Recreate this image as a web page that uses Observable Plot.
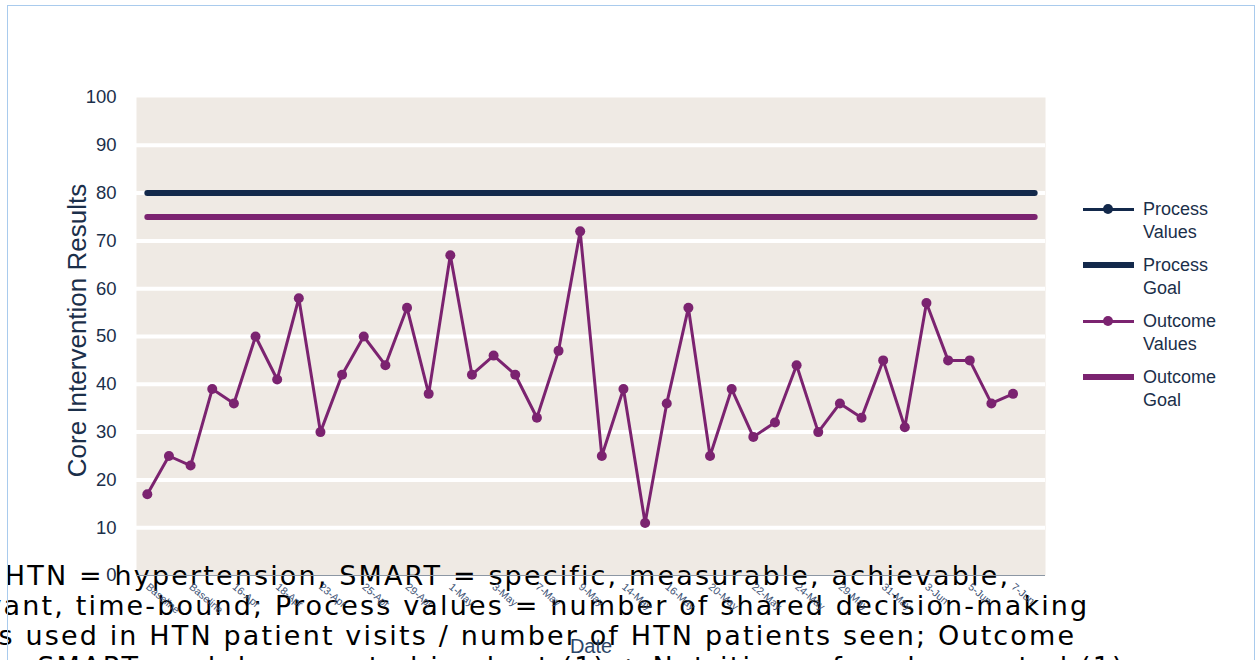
<!DOCTYPE html>
<html>
<head>
<meta charset="utf-8">
<script src="https://cdn.jsdelivr.net/npm/d3@7"></script>
<script src="https://cdn.jsdelivr.net/npm/@observablehq/plot@0.6"></script>
<style>
  html, body { margin: 0; padding: 0; background: #fff; overflow: hidden; width: 1259px; height: 660px; }
  #chart { position: absolute; left: 0; top: 0; }
  #chart g[font-family*="DejaVu"] text { letter-spacing: 2.15px; }
  #border { position: absolute; left: 7px; top: 5px; width: 1248px; height: 700px; border: 1.5px solid #a9cbed; box-sizing: border-box; pointer-events: none; }
  #legend { position: absolute; left: 1083px; top: 198px; font-family: "Liberation Sans", Arial, sans-serif; font-size: 18px; color: #1b2f4a; line-height: 23px; }
  .item { position: relative; height: 56px; }
  .item .txt { position: absolute; left: 60px; top: 0; }
  .item .ln { position: absolute; left: 0; width: 51px; }
  .item .dot { position: absolute; left: 20px; width: 10px; height: 10px; border-radius: 50%; }
</style>
</head>
<body>
<div id="chart"></div>
<div id="legend"></div>
<div id="border"></div>
<script>
// ---- data ----
const dateLabels = ["Baseline","Baseline","16-Apr","18-Apr","23-Apr","25-Apr","29-Apr","1-May","3-May","7-May","9-May","14-May","16-May","20-May","22-May","24-May","29-May","31-May","3-Jun","5-Jun","7-Jun"];
const outcomeValues = [17,25,23,39,36,50,41,58,30,42,50,44,56,38,67,42,46,42,33,47,72,25,39,11,36,56,25,39,29,32,44,30,36,33,45,31,57,45,45,36,38];
const processGoal = 80;
const outcomeGoal = 75;
const nCategories = 42;
const yTicks = [0,10,20,30,40,50,60,70,80,90,100];
const gridTicks = [10,20,30,40,50,60,70,80,90];
const legendItems = [
  {label: "Process\nValues", color: "#13294b", kind: "values"},
  {label: "Process\nGoal", color: "#13294b", kind: "goal"},
  {label: "Outcome\nValues", color: "#7b2370", kind: "values"},
  {label: "Outcome\nGoal", color: "#7b2370", kind: "goal"}
];
const captionLines = [
  "HTN = hypertension, SMART = specific, measurable, achievable,",
  "relevant, time-bound; Process values = number of shared decision-making",
  "tools used in HTN patient visits / number of HTN patients seen; Outcome",
  "values = SMART goal documented in chart (1) + Nutrition referral accepted (1)"
];

// ---- tables ----
const idx = d3.range(nCategories);
const outcome = outcomeValues.map((v, i) => ({i, v}));
const procGoal = idx.map(i => ({i, v: processGoal}));
const outGoal = idx.map(i => ({i, v: outcomeGoal}));
const tickIdx = dateLabels.map((d, k) => k * 2);

const navy = "#13294b", purple = "#7b2370";
const font = "Liberation Sans, Arial, sans-serif";

const chart = Plot.plot({
  width: 1259,
  height: 660,
  marginLeft: 136,
  marginRight: 214,
  marginTop: 97,
  marginBottom: 85,
  style: {background: "transparent", fontFamily: font, overflow: "visible"},
  x: {type: "point", domain: idx, padding: 0.5, round: false},
  y: {domain: [0, 100]},
  marks: [
    Plot.frame({fill: "#efeae4", stroke: null}),
    Plot.ruleY(gridTicks, {stroke: "#ffffff", strokeWidth: 4}),
    Plot.text([captionLines.join("\n")], {
      frameAnchor: "bottom-left", dx: 371, dy: -12, textAnchor: "middle", lineAnchor: "top",
      lineHeight: 1.12, fontSize: 27, fill: "#000", fontFamily: "DejaVu Sans, sans-serif"
    }),
    Plot.ruleY([0], {stroke: "#8c97a4", strokeWidth: 1}),
    Plot.line(procGoal, {x: "i", y: "v", stroke: navy, strokeWidth: 6}),
    Plot.line(outGoal, {x: "i", y: "v", stroke: purple, strokeWidth: 6}),
    Plot.line(outcome, {x: "i", y: "v", stroke: purple, strokeWidth: 3}),
    Plot.dot(outcome, {x: "i", y: "v", fill: purple, r: 5}),
    Plot.axisX({ticks: tickIdx, tickFormat: i => dateLabels[i / 2], tickSize: 0, tickPadding: 10, tickRotate: 40, fontSize: 10.5, fill: "#3d5275", label: null}),
    Plot.axisY({ticks: yTicks, tickSize: 0, tickPadding: 20, fontSize: 18.5, fill: "#1b2f4a", label: null}),
    Plot.text(["Date"], {frameAnchor: "bottom", dy: 77, fontSize: 20, fill: "#2b4668", lineAnchor: "bottom"}),
    Plot.text(["Core Intervention Results"], {frameAnchor: "left", dx: -59, dy: -6, rotate: -90, textAnchor: "middle", fontSize: 26, fill: "#1b2f4a"})
  ]
});
document.getElementById("chart").appendChild(chart);

// ---- legend ----
const legend = document.getElementById("legend");
legendItems.forEach(it => {
  const d = document.createElement("div");
  d.className = "item";
  const ln = document.createElement("div");
  ln.className = "ln";
  const th = it.kind === "goal" ? 6 : 3;
  ln.style.height = th + "px";
  ln.style.top = (11 - th / 2) + "px";
  ln.style.background = it.color;
  d.appendChild(ln);
  if (it.kind === "values") {
    const dot = document.createElement("div");
    dot.className = "dot";
    dot.style.top = "6px";
    dot.style.background = it.color;
    d.appendChild(dot);
  }
  const t = document.createElement("div");
  t.className = "txt";
  t.innerText = it.label;
  d.appendChild(t);
  legend.appendChild(d);
});
</script>
</body>
</html>
